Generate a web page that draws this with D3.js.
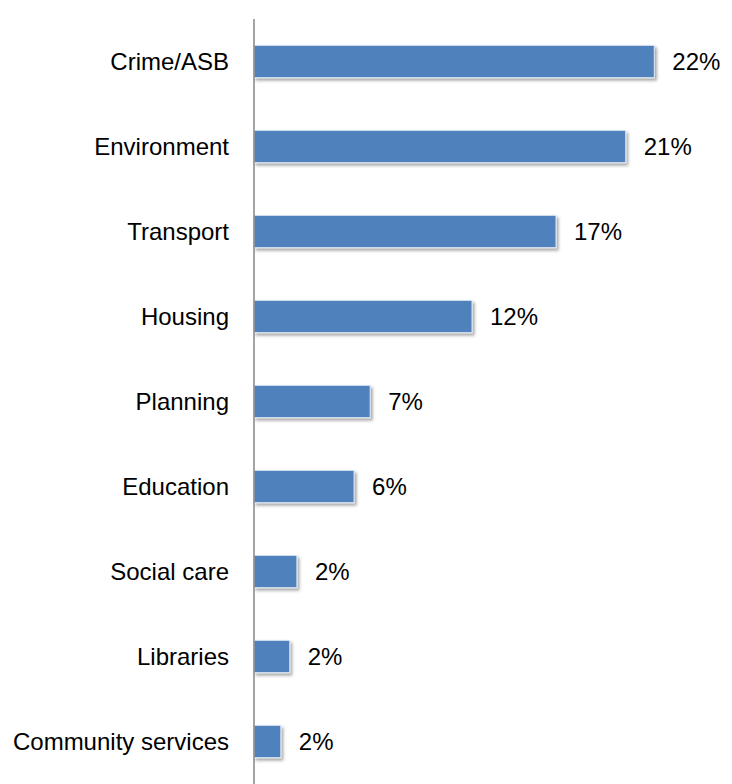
<!DOCTYPE html>
<html>
<head>
<meta charset="utf-8">
<script src="https://cdn.jsdelivr.net/npm/d3@7"></script>
<style>
  html, body { margin: 0; padding: 0; background: #fff; }
  svg { display: block; }
  text { font-family: "Liberation Sans", Arial, sans-serif; fill: #000; }
</style>
</head>
<body>
<svg id="chart" width="732" height="784"></svg>
<script>
const categories = ["Crime/ASB", "Environment", "Transport", "Housing", "Planning", "Education", "Social care", "Libraries", "Community services"];
const values = [22.4, 20.8, 16.9, 12.2, 6.5, 5.6, 2.4, 2.0, 1.5];
const valueLabels = ["22%", "21%", "17%", "12%", "7%", "6%", "2%", "2%", "2%"];

const svg = d3.select("#chart");
const axisX = 254;

const x = d3.scaleLinear().domain([0, 25]).range([axisX, axisX + 25 * 17.87]);
const y = d3.scaleBand().domain(categories).range([19, 784]).paddingInner(0.62).paddingOuter(0.31);

const defs = svg.append("defs");
const f = defs.append("filter").attr("id", "shadow").attr("x", "-10%").attr("y", "-20%").attr("width", "130%").attr("height", "160%");
f.append("feDropShadow").attr("dx", 2).attr("dy", 2.5).attr("stdDeviation", 1.5).attr("flood-color", "#000").attr("flood-opacity", 0.35);

const data = categories.map((c, i) => ({ c, v: values[i], l: valueLabels[i] }));

svg.append("g").selectAll("rect").data(data).join("rect")
  .attr("x", x(0))
  .attr("y", d => y(d.c))
  .attr("width", d => x(d.v) - x(0))
  .attr("height", y.bandwidth())
  .attr("fill", "#4F81BD")
  .attr("stroke", "#DCE6F2")
  .attr("stroke-width", 1)
  .attr("filter", "url(#shadow)");

// axis line
svg.append("line")
  .attr("x1", axisX).attr("x2", axisX)
  .attr("y1", 19).attr("y2", 784)
  .attr("stroke", "#868686").attr("stroke-width", 1.5);

// category labels
svg.append("g").selectAll("text").data(data).join("text")
  .attr("x", 229)
  .attr("y", d => y(d.c) + y.bandwidth() / 2)
  .attr("dy", "0.36em")
  .attr("text-anchor", "end")
  .attr("font-size", 24)
  .text(d => d.c);

// value labels
svg.append("g").selectAll("text").data(data).join("text")
  .attr("x", d => x(d.v) + 18)
  .attr("y", d => y(d.c) + y.bandwidth() / 2)
  .attr("dy", "0.36em")
  .attr("text-anchor", "start")
  .attr("font-size", 24)
  .text(d => d.l);
</script>
</body>
</html>
